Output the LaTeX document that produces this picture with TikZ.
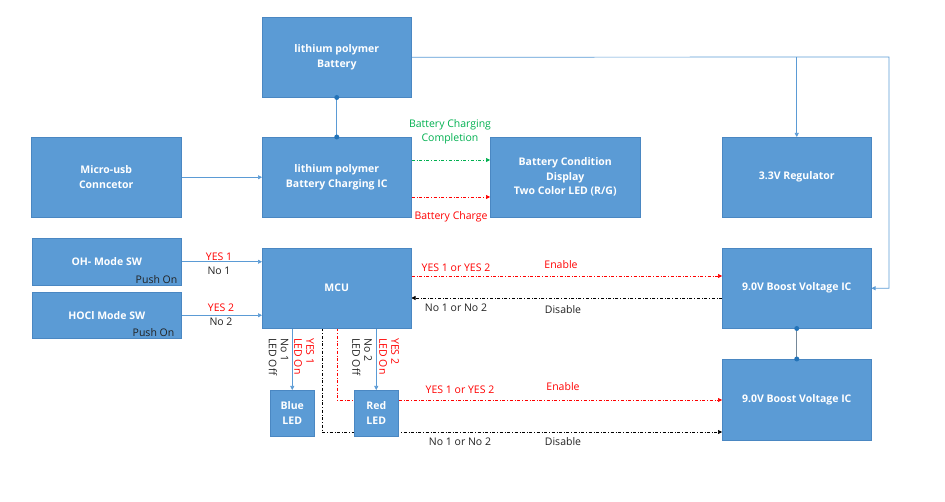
\documentclass[tikz,border=0pt]{standalone}
\usepackage{fontspec}
\setmainfont{Open Sans}
\usetikzlibrary{arrows.meta,backgrounds}
\definecolor{boxfill}{HTML}{5B9BD5}
\definecolor{boxborder}{HTML}{4A87C2}
\definecolor{linec}{HTML}{5B9BD5}
\definecolor{dotc}{HTML}{2373B8}
\definecolor{redc}{HTML}{FF0000}
\definecolor{greenc}{HTML}{00B050}
\definecolor{darkt}{HTML}{222222}
\begin{document}
\begin{tikzpicture}[x=1pt,y=-1pt,
  box/.style={draw=boxborder, fill=boxfill, text=white, font=\bfseries\fontsize{10.5}{14.5}\selectfont,
    align=center, inner sep=0pt, line width=0.5pt, anchor=north west},
  lbl/.style={font=\fontsize{10.5}{13.5}\selectfont, inner sep=0pt},
  rlbl/.style={lbl, rotate=-90, anchor=west, align=left, font=\fontsize{10.5}{12}\selectfont},
  arr/.style={draw=linec, line width=0.7pt, -{Triangle[length=4pt,width=4pt]}},
  conn/.style={draw=linec, line width=1pt},
  dd/.style={dash dot, line width=0.6pt, -{Triangle[length=4pt,width=4pt]}},
  dotn/.style={fill=dotc, circle, inner sep=0pt, minimum size=5pt}
]
\useasboundingbox (0,0) rectangle (945,502);

% boxes
\node[box, minimum width=149pt, minimum height=80pt] (bat) at (262,17) {lithium polymer\\Battery};
\node[box, minimum width=150pt, minimum height=80pt] (usb) at (31,137) {Micro-usb\\Conncetor};
\node[box, minimum width=149pt, minimum height=80pt] (chg) at (262,137) {lithium polymer\\Battery Charging IC};
\node[box, minimum width=150pt, minimum height=80pt] (disp) at (490,137) {Battery Condition\\Display\\Two Color LED (R/G)};
\node[box, minimum width=149pt, minimum height=80pt] (reg) at (722,137) {3.3V Regulator};
\node[box, minimum width=149pt, minimum height=47pt] (oh) at (32,238) {OH- Mode SW};
\node[box, minimum width=149pt, minimum height=46pt] (hocl) at (32,292) {HOCl Mode SW};
\node[box, minimum width=149pt, minimum height=80pt] (mcu) at (262,248) {MCU};
\node[box, minimum width=149pt, minimum height=80pt] (bst1) at (722,248) {9.0V Boost Voltage IC};
\node[box, minimum width=149pt, minimum height=81pt] (bst2) at (722,359) {9.0V Boost Voltage IC};
\node[box, minimum width=44pt, minimum height=46pt] (bled) at (270,390) {Blue\\LED};
\node[box, minimum width=44pt, minimum height=46pt] (rled) at (354,390) {Red\\LED};

\node[lbl, text=darkt, anchor=south east] (ohp) at ([xshift=-4pt,yshift=2pt]oh.south east) {Push On};
\node[lbl, text=darkt, anchor=south east] (hoclp) at ([xshift=-7pt,yshift=2pt]hocl.south east) {Push On};

% coordinates
\coordinate (cr) at (889,57);
\coordinate (rdn) at (337,400);
\coordinate (bkdn) at (322,432);

\begin{pgfonlayer}{background}
\draw[conn] (bat.south) -- (chg.north);
\draw[arr] (usb.east) -- (chg.west);
\draw[dd, greenc] (chg.east |- 0,160) -- (disp.west |- 0,160);
\draw[dd, redc] (chg.east |- 0,197) -- (disp.west |- 0,197);
\draw[arr] (bat.east) -- (cr) |- (bst1.east);
\draw[arr] (bat.east -| reg.north) -- (reg.north);
\draw[arr] (oh.east) -- (oh.east -| mcu.west);
\draw[arr] (hocl.east) -- (hocl.east -| mcu.west);
\draw[dd, redc] (mcu.east |- 0,276) -- (bst1.west |- 0,276);
\draw[dd, black] (bst1.west |- 0,298) -- (mcu.east |- 0,298);
\draw[conn, draw=gray!70!linec] (bst1.south) -- (bst2.north);
\draw[arr] (mcu.south -| bled.north) -- (bled.north);
\draw[arr] (mcu.south -| rled.north) -- (rled.north);
\draw[dd, redc] (mcu.south -| rdn) -- (rdn) -- (bst2.west |- rdn);
\draw[dd, black] (mcu.south -| bkdn) -- (bkdn) -- (bst2.west |- bkdn);
\end{pgfonlayer}

% dots
\node[dotn] (d1) at (bat.south) {};
\node[dotn] (d2) at (chg.north) {};
\node[dotn] (d3) at (bst1.south) {};
\node[dotn] (d4) at (bst2.north) {};

% labels
\node[lbl, text=greenc, align=center] (lcomp) at (450,132) {Battery Charging\\Completion};
\node[lbl, text=redc] (lcharge) at (451,217) {Battery Charge};
\node[lbl, text=redc] (ly1) at (219,257) {YES 1};
\node[lbl, text=darkt] (ln1) at (219,271) {No 1};
\node[lbl, text=redc] (ly2) at (221,308) {YES 2};
\node[lbl, text=darkt] (ln2) at (221,322) {No 2};
\node[lbl, text=redc] (le1) at (456,268) {YES 1 or YES 2};
\node[lbl, text=redc] (len1) at (561,265) {Enable};
\node[lbl, text=darkt] (lno1) at (456,308) {No 1 or No 2};
\node[lbl, text=darkt] (ldis1) at (563,310) {Disable};
\node[lbl, text=redc] (le2) at (460,390) {YES 1 or YES 2};
\node[lbl, text=redc] (len2) at (563,387) {Enable};
\node[lbl, text=darkt] (lno2) at (460,442) {No 1 or No 2};
\node[lbl, text=darkt] (ldis2) at (563,442) {Disable};

% rotated LED labels
\node[rlbl, text=darkt] (lb1) at (278.5,338) {No 1\\LED Off};
\node[rlbl, text=redc] (lb2) at (304,338) {YES 1\\LED On};
\node[rlbl, text=darkt] (lr1) at (362,338) {No 2\\LED Off};
\node[rlbl, text=redc] (lr2) at (389,338) {YES 2\\LED On};
\end{tikzpicture}
\end{document}
